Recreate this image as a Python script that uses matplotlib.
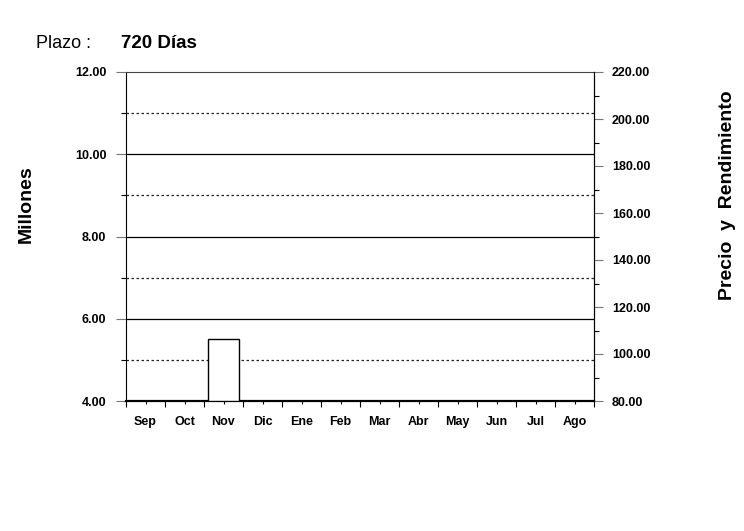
import matplotlib.pyplot as plt
from matplotlib.ticker import MultipleLocator

plt.rcParams['font.family'] = ['Liberation Sans', 'DejaVu Sans']

# ---- DATA ----
meses = ['Sep', 'Oct', 'Nov', 'Dic', 'Ene', 'Feb', 'Mar', 'Abr', 'May', 'Jun', 'Jul', 'Ago']
montos = [0, 0, 5.5, 0, 0, 0, 0, 0, 0, 0, 0, 0]  # millones
y_left = (4, 12)
y_right = (80, 220)
plazo = '720 Días'

# ---- PLOT ----
W, H = 744, 531
fig = plt.figure(figsize=(W / 100, H / 100), dpi=100)
ax = fig.add_axes([126 / W, 1 - 401 / H, 468 / W, 329 / H])

x = list(range(len(meses)))
alturas = [m - y_left[0] if m > 0 else 0 for m in montos]
ax.bar(x, alturas, bottom=y_left[0], width=0.8,
       facecolor='white', edgecolor='black', linewidth=1, zorder=3)

ax.set_xlim(-0.5, len(meses) - 0.5)
ax.set_ylim(*y_left)
ax.yaxis.set_major_locator(MultipleLocator(2))
ax.yaxis.set_minor_locator(MultipleLocator(1))
ax.yaxis.set_major_formatter(lambda v, p: f'{v:.2f}')

# grid lines: solid at majors, dotted at odd values
for v in range(y_left[0] + 1, y_left[1]):
    if v % 2 == 0:
        ax.axhline(v, color='black', linewidth=0.9, zorder=1)
    else:
        ax.axhline(v, color='#222222', linewidth=0.9, linestyle=(0, (2, 2)), zorder=1)

ax.set_xticks([i - 0.5 for i in range(len(meses) + 1)])
ax.set_xticklabels([])
ax.set_xticks(x, minor=True)
ax.set_xticklabels(meses, minor=True, fontsize=9, fontweight='bold')
ax.tick_params(axis='x', which='major', direction='out', length=4.5, width=0.8)
ax.tick_params(axis='x', which='minor', direction='out', length=2.5, width=0.8, pad=8)
ax.tick_params(axis='y', which='major', direction='out', length=7.2, width=0.8, color='#777777',
               labelsize=9, pad=7)
ax.tick_params(axis='y', which='minor', direction='out', length=3.6, width=0.8)
for lbl in ax.get_yticklabels():
    lbl.set_fontweight('bold')

ax.spines['top'].set_color('#444444')
ax.spines['bottom'].set_linewidth(1.6)

ax2 = ax.twinx()
ax2.set_ylim(*y_right)
ax2.yaxis.set_major_locator(MultipleLocator(20))
ax2.yaxis.set_minor_locator(MultipleLocator(10))
ax2.yaxis.set_major_formatter(lambda v, p: f'{v:.2f}')
ax2.tick_params(axis='y', which='major', direction='out', length=6.5, width=0.8, color='#777777',
                labelsize=9, pad=6.5)
ax2.tick_params(axis='y', which='minor', direction='out', length=3.6, width=0.8)
for lbl in ax2.get_yticklabels():
    lbl.set_fontweight('bold')
for s in ['top', 'bottom', 'left']:
    ax2.spines[s].set_visible(False)

# axis titles placed on the figure
fig.text(26 / W, 1 - 204 / H, 'Millones', fontsize=14, fontweight='bold',
         rotation=90, ha='center', va='center')
fig.text(727 / W, 1 - 195 / H, 'Precio  y  Rendimiento', fontsize=14, fontweight='bold',
         rotation=90, ha='center', va='center')

fig.text(36 / W, 1 - 43 / H, 'Plazo :', fontsize=13, va='center', ha='left')
fig.text(121 / W, 1 - 43 / H, plazo, fontsize=13.5, fontweight='bold', va='center', ha='left')

fig.savefig('out.png', dpi=100)
